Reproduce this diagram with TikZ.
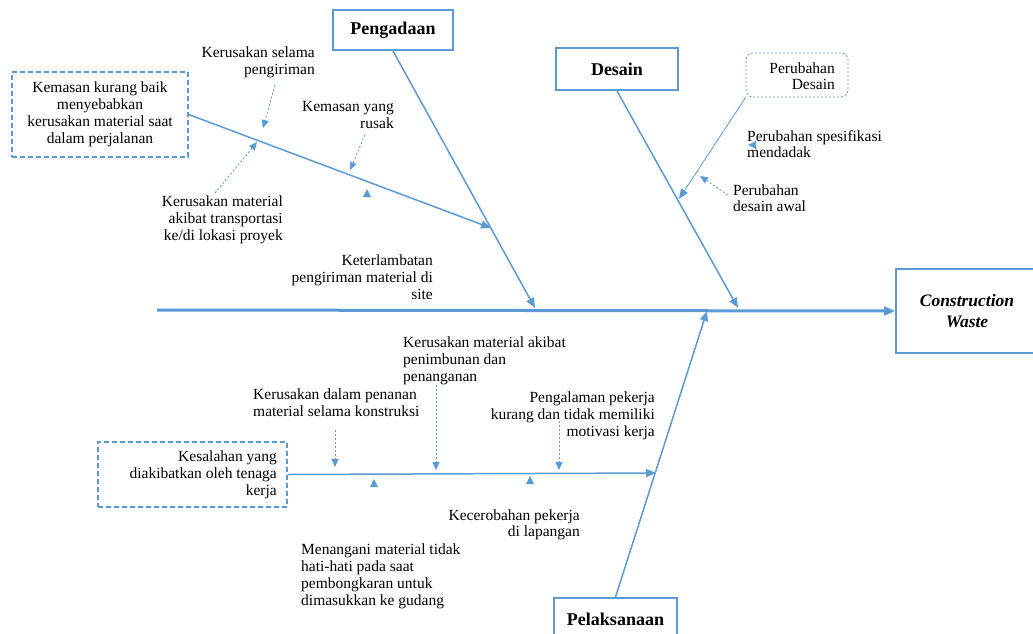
\documentclass[tikz,border=0pt]{standalone}
\usepackage{fontspec}
\setmainfont{Liberation Serif}
\usetikzlibrary{arrows.meta}
\definecolor{fb}{RGB}{91,155,213}
\begin{document}
\begin{tikzpicture}[x=1pt,y=-1pt,
  txt/.style={font=\fontsize{15.5}{17}\selectfont, inner sep=0pt},
  head/.style={draw=fb, line width=2pt, inner sep=0pt, font=\fontsize{18}{20}\selectfont\bfseries},
  dbox/.style={draw=fb, line width=1.3pt, dash pattern=on 5pt off 3pt, inner sep=0pt},
  spine/.style={draw=fb, line width=3pt, -{Triangle[length=11pt,width=9pt]}},
  bone/.style={draw=fb, line width=1.5pt, -{Triangle[length=10pt,width=8pt]}},
  thinbone/.style={draw=fb, line width=0.8pt, -{Triangle[length=10pt,width=8pt]}},
  sub/.style={draw=fb, line width=0.8pt, dash pattern=on 2pt off 2pt, -{Triangle[length=8pt,width=7pt]}},
  tipmark/.style={fill=fb}
]
\useasboundingbox (0,0) rectangle (1033,634);

% head boxes
\node[head, minimum width=120pt, minimum height=40pt] (P) at (393,30) {Pengadaan};
\node[head, minimum width=122pt, minimum height=42pt] (D) at (617,69) {Desain};
\node[head, minimum width=123pt, minimum height=42pt] (L) at (615.5,619) {Pelaksanaan};
\node[head, minimum width=142pt, minimum height=84pt, align=center, font=\fontsize{17.5}{21}\selectfont\bfseries\itshape] (CW) at (967,311) {Construction\\Waste};

% dashed boxes
\node[dbox, minimum width=176pt, minimum height=85pt] (K) at (100,114.5) {};
\node[txt, align=center] at (100,114.5) {Kemasan kurang baik\\menyebabkan\\kerusakan material saat\\dalam perjalanan};
\node[dbox, minimum width=189pt, minimum height=65pt] (KS) at (192.5,474.5) {};
\node[txt, align=right, anchor=east] at (277,475) {Kesalahan yang\\diakibatkan oleh tenaga\\kerja};
\node[draw=fb, line width=0.8pt, dash pattern=on 2pt off 2pt, rounded corners=7pt, minimum width=102pt, minimum height=44pt, inner sep=0pt] (PD) at (797,75) {};
\node[txt, align=right, anchor=east, font=\fontsize{15.5}{16}\selectfont] at (835,76.5) {Perubahan\\Desain};

% spine and bones
\coordinate (spL) at (157,310);
\coordinate (pA) at (535,308);
\coordinate (dA) at (738,308);
\coordinate (lA) at (707,311);
\coordinate (kA) at (491,228);
\coordinate (pdA) at (679,199);
\coordinate (ksA) at (656,473);
\draw[spine] (spL) -- (CW.west);
\draw[bone] (P.south) -- (pA);
\draw[bone] (D.south) -- (dA);
\draw[bone] (L.north) -- (lA);
\draw[bone] (K.east) -- (kA);
\draw[thinbone] (PD.south west) -- (pdA);
\draw[bone] (KS.east) -- (ksA);

% dotted sub arrows
\coordinate (s1a) at (275,85);  \coordinate (s1b) at (263,128);
\coordinate (s2a) at (365,135); \coordinate (s2b) at (350,170);
\coordinate (s3a) at (215,193); \coordinate (s3b) at (257,142);
\coordinate (s4a) at (728,195); \coordinate (s4b) at (700,176);
\coordinate (s5a) at (335,430); \coordinate (s5b) at (335,467);
\coordinate (s6a) at (436,385); \coordinate (s6b) at (436,470);
\coordinate (s7a) at (559,421); \coordinate (s7b) at (559,470);
\draw[sub] (s1a) -- (s1b);
\draw[sub] (s2a) -- (s2b);
\draw[sub] (s3a) -- (s3b);
\draw[sub] (s4a) -- (s4b);
\draw[sub] (s5a) -- (s5b);
\draw[sub] (s6a) -- (s6b);
\draw[sub] (s7a) -- (s7b);

% lone arrow tips
\fill[tipmark] (363,197) -- (371,197) -- (367,189) -- cycle;
\fill[tipmark] (370,487) -- (378,487) -- (374,479) -- cycle;
\fill[tipmark] (526,484) -- (534,484) -- (530,476) -- cycle;
\fill[tipmark] (748,145) -- (756,141) -- (756,149) -- cycle;

% labels
\node[txt, align=right, anchor=north east] at (315,47) {Kerusakan selama\\pengiriman};
\node[txt, align=right, anchor=north east] at (394,101) {Kemasan yang\\rusak};
\node[txt, align=right, anchor=north east] at (283,196) {Kerusakan material\\akibat transportasi\\ke/di lokasi proyek};
\node[txt, align=right, anchor=north east] at (433,255) {Keterlambatan\\pengiriman material di\\site};
\node[txt, align=left, anchor=north west, font=\fontsize{15.5}{16}\selectfont] at (747,130) {Perubahan spesifikasi\\mendadak};
\node[txt, align=left, anchor=north west, font=\fontsize{15.5}{16}\selectfont] at (733,185) {Perubahan\\desain awal};
\node[txt, align=left, anchor=north west] at (403,337) {Kerusakan material akibat\\penimbunan dan\\penanganan};
\node[txt, align=left, anchor=north west, font=\fontsize{15.5}{16.5}\selectfont] at (253,389) {Kerusakan dalam penanan\\material selama konstruksi};
\node[txt, align=right, anchor=north east] at (655,392) {Pengalaman pekerja\\kurang dan tidak memiliki\\motivasi kerja};
\node[txt, align=right, anchor=north east, font=\fontsize{15.5}{16}\selectfont] at (580,510) {Kecerobahan pekerja\\di lapangan};
\node[txt, align=left, anchor=north west, font=\fontsize{15.5}{16.7}\selectfont] at (301,544) {Menangani material tidak\\hati-hati pada saat\\pembongkaran untuk\\dimasukkan ke gudang};
\end{tikzpicture}
\end{document}
